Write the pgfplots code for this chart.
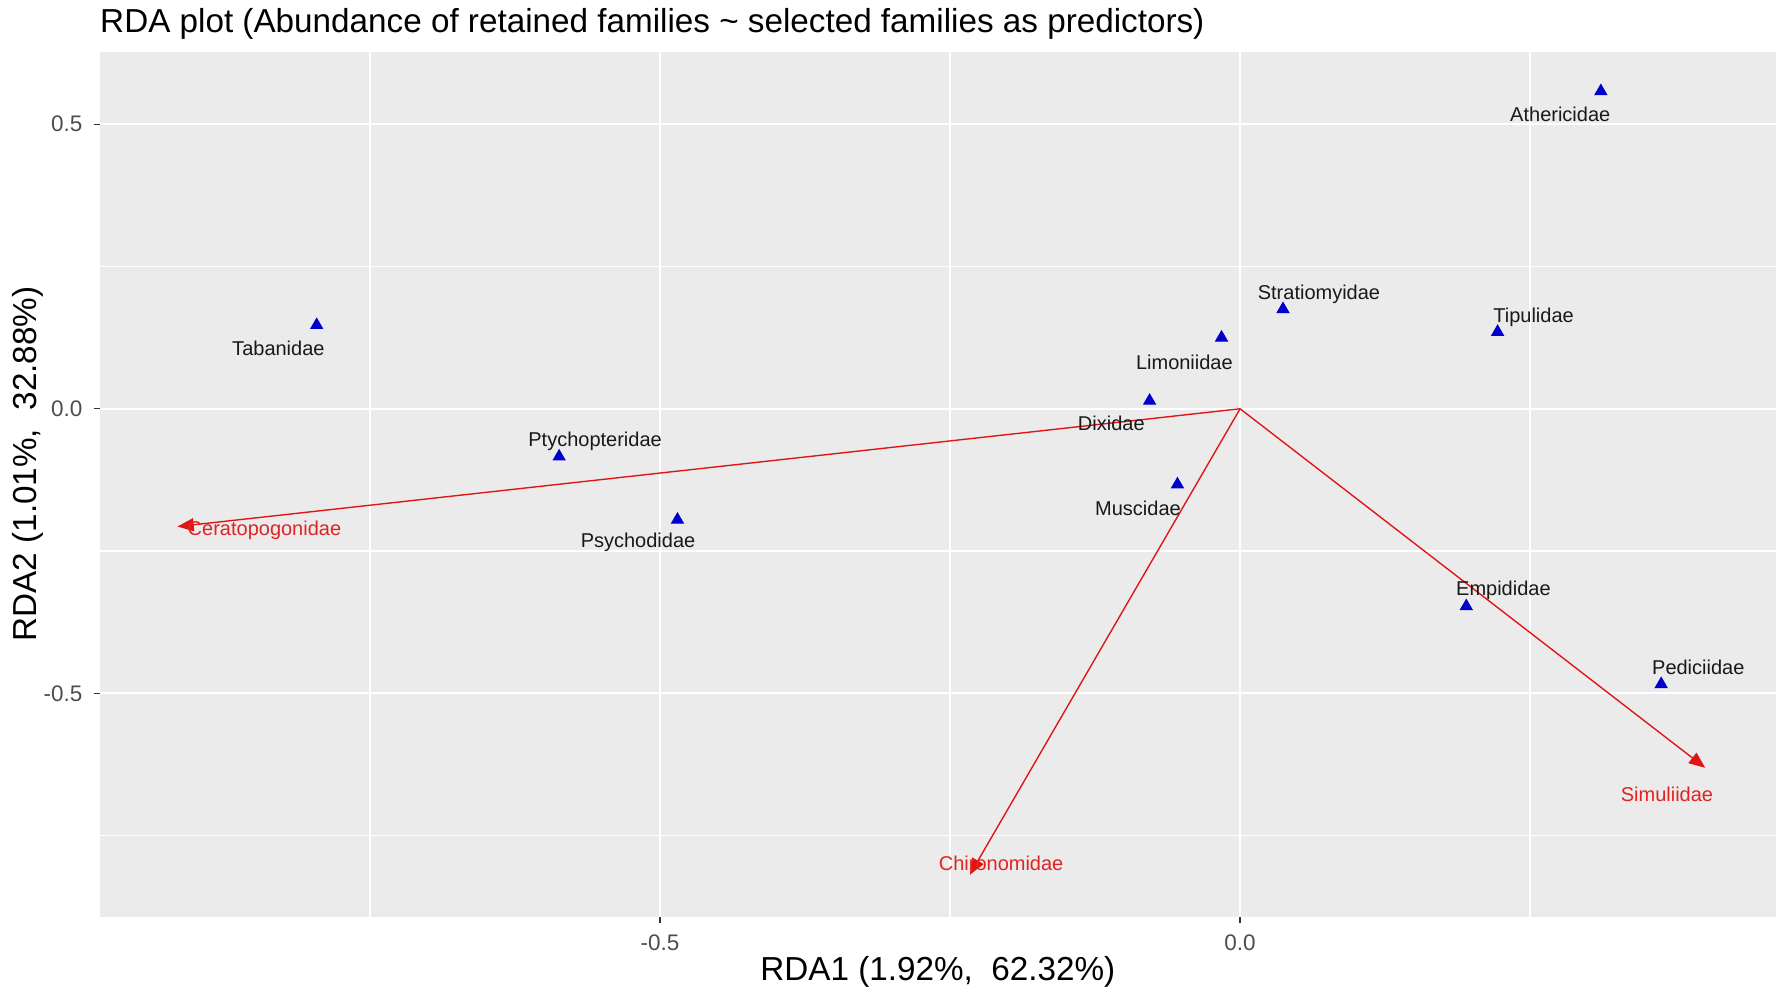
\documentclass[border=0pt]{standalone}
\usepackage{fontspec}
\setmainfont{Liberation Sans}
\usepackage{pgfplots}
\pgfplotsset{compat=1.18}
\usepackage{pgfplotstable}
\usetikzlibrary{arrows.meta,calc}
\definecolor{panel}{RGB}{235,235,235}
\definecolor{ptblue}{RGB}{0,0,205}
\definecolor{arrred}{RGB}{225,20,20}
\definecolor{labred}{RGB}{225,35,35}
\definecolor{tickgray}{RGB}{77,77,77}

\pgfplotstableread{
x y lx ly label
0.311 0.558 0.276 0.518 Athericidae
0.037 0.175 0.068 0.201 Stratiomyidae
0.222 0.135 0.253 0.161 Tipulidae
-0.796 0.147 -0.829 0.106 Tabanidae
-0.016 0.125 -0.048 0.082 Limoniidae
-0.078 0.014 -0.111 -0.026 Dixidae
-0.587 -0.084 -0.556 -0.058 Ptychopteridae
-0.054 -0.133 -0.088 -0.175 Muscidae
-0.485 -0.195 -0.519 -0.235 Psychodidae
0.195 -0.347 0.227 -0.319 Empididae
0.363 -0.484 0.395 -0.454 Pediciidae
}\species

\pgfplotstableread{
lx ly label
-0.841 -0.213 Ceratopogonidae
-0.206 -0.799 Chironomidae
0.368 -0.677 Simuliidae
}\vectors

\begin{document}
\begin{tikzpicture}
\begin{axis}[
  scale only axis,
  width=670.5pt, height=346.2pt,
  xmin=-0.983, xmax=0.462,
  ymin=-0.894, ymax=0.627,
  axis background/.style={fill=panel},
  axis line style={draw=none},
  tick pos=left,
  tick align=outside,
  major tick length=2.4pt,
  minor tick length=0pt,
  every tick/.style={draw=black!80, line width=0.5pt},
  xtick={-0.5,0}, xticklabels={-0.5,0.0},
  ytick={-0.5,0,0.5}, yticklabels={-0.5,0.0,0.5},
  minor xtick={-0.75,-0.25,0.25},
  minor ytick={-0.75,-0.25,0.25},
  grid=both,
  major grid style={white, line width=0.9pt},
  minor grid style={white, line width=0.5pt},
  ticklabel style={font=\fontsize{9}{11}\selectfont, text=tickgray},
  xticklabel style={yshift=-1pt},
  yticklabel style={xshift=-1pt},
]
\addplot[arrred, line width=0.55pt, -{Triangle[length=6.5pt,width=5.2pt]}] coordinates {(0,0) (-0.916,-0.207)};
\addplot[arrred, line width=0.55pt, -{Triangle[length=6.5pt,width=5.2pt]}] coordinates {(0,0) (-0.233,-0.819)};
\addplot[arrred, line width=0.55pt, -{Triangle[length=6.5pt,width=5.2pt]}] coordinates {(0,0) (0.401,-0.631)};
\addplot[only marks, mark=triangle*, mark size=2.7pt, color=ptblue] table[x=x,y=y] {\species};
\addplot[only marks, mark=none, nodes near coords, point meta=explicit symbolic,
  nodes near coords style={anchor=center, inner sep=0pt, font=\fontsize{8}{10}\selectfont, text=black!90}]
  table[x=lx,y=ly,meta=label] {\species};
\addplot[only marks, mark=none, nodes near coords, point meta=explicit symbolic,
  nodes near coords style={anchor=center, inner sep=0pt, font=\fontsize{8}{10}\selectfont, text=labred}]
  table[x=lx,y=ly,meta=label] {\vectors};
\end{axis}
\node[anchor=base west, inner sep=0pt, font=\fontsize{13.3}{16}\selectfont] at ([yshift=7.7pt]current axis.north west) {RDA plot (Abundance of retained families \textasciitilde{} selected families as predictors)};
\node[anchor=base, inner sep=0pt, font=\fontsize{13.3}{16}\selectfont] at ([yshift=-25.4pt]current axis.south) {RDA1 (1.92\%,\ \ 62.32\%)};
\node[rotate=90, anchor=center, inner sep=0pt, font=\fontsize{13.3}{16}\selectfont] at ($(current axis.south west)!0.524!(current axis.north west)+(-28.6pt,0)$) {RDA2 (1.01\%,\ \ 32.88\%)};
\pgfresetboundingbox
\path ([shift={(-39.9pt,-29pt)}]current axis.south west) rectangle ([shift={(0pt,20.8pt)}]current axis.north east);
\end{tikzpicture}
\end{document}
